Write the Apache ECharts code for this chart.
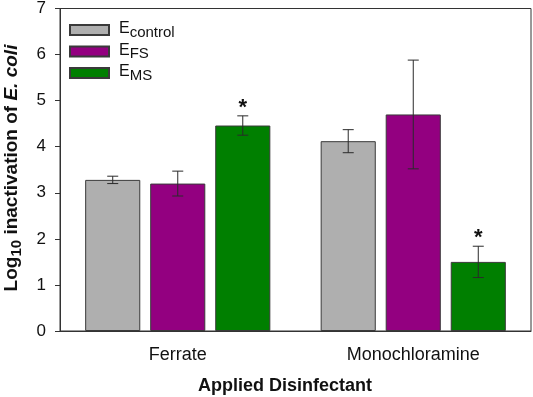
<!DOCTYPE html>
<html>
<head>
<meta charset="utf-8">
<script src="https://cdn.jsdelivr.net/npm/echarts@6/dist/echarts.min.js"></script>
<style>
  html, body { margin: 0; padding: 0; background: #fff; }
  #chart { width: 533px; height: 397px; }
</style>
</head>
<body>
<div id="chart"></div>
<script>
// data
var categories = ['Ferrate', 'Monochloramine']
var controlMean = [3.28, 4.12]
var controlErr = [0.08, 0.25]
var fsMean = [3.20, 4.70]
var fsErr = [0.27, 1.18]
var msMean = [4.46, 1.50]
var msErr = [0.21, 0.34]
var msSig = ['*', '*']
var yTicks = [0, 1, 2, 3, 4, 5, 6, 7]

var font = 'Liberation Sans, Arial, sans-serif'
var barWidthPct = 0.234
var barGapPct = 0.18

function errSeries (name, means, errs, idx, marks) {
  var rows = means.map(function (m, i) { return [i, m, errs[i], marks ? marks[i] : ''] })
  return {
    name: name + '_err',
    type: 'custom',
    z: 5,
    data: rows,
    renderItem: function (params, api) {
      var band = api.size([1, 0])[0]
      var bw = band * barWidthPct
      var off = (idx - 1) * bw * (1 + barGapPct)
      var c = api.value(0)
      var m = api.value(1)
      var e = api.value(2)
      var top = api.coord([c, m + e])
      var bot = api.coord([c, m - e])
      var x = top[0] + off
      var cap = 5.5
      var st = { stroke: '#2a2a2a', lineWidth: 1 }
      var kids = [
        { type: 'line', shape: { x1: x, y1: top[1], x2: x, y2: bot[1] }, style: st },
        { type: 'line', shape: { x1: x - cap, y1: top[1], x2: x + cap, y2: top[1] }, style: st },
        { type: 'line', shape: { x1: x - cap, y1: bot[1], x2: x + cap, y2: bot[1] }, style: st }
      ]
      var mk = rows[params.dataIndex][3]
      if (mk) {
        kids.push({
          type: 'text',
          style: {
            x: x, y: top[1] + 3, text: mk, fill: '#111',
            font: 'bold 22px ' + font, textAlign: 'center', textVerticalAlign: 'bottom'
          }
        })
      }
      return { type: 'group', children: kids }
    }
  }
}

var legendRich = {
  a: { fontSize: 16, fontFamily: font, color: '#111', verticalAlign: 'top', lineHeight: 18, padding: [0, 0, 0, 5] },
  b: { fontSize: 15, fontFamily: font, color: '#111', verticalAlign: 'top', lineHeight: 18, padding: [4, 0, 0, 0] }
}

var myChart = echarts.init(document.getElementById('chart'), null, { renderer: 'canvas' })
var option = {
  animation: false,
  grid: {
    left: 60, right: 2, top: 8, bottom: 66,
    show: true, borderColor: '#333', borderWidth: 1
  },
  legend: {
    orient: 'vertical',
    left: 64, top: 16,
    itemWidth: 39, itemHeight: 10, itemGap: 2.5,
    icon: 'rect',
    data: ['control', 'FS', 'MS'],
    formatter: function (n) { return '{a|E}{b|' + n + '}' },
    textStyle: { rich: legendRich, padding: [0, 0, 0, 0] }
  },
  xAxis: {
    type: 'category',
    data: categories,
    axisLine: { lineStyle: { color: '#333', width: 1 } },
    axisTick: { alignWithLabel: true, length: 5, lineStyle: { color: '#333' } },
    axisLabel: { fontSize: 18, fontFamily: font, color: '#111', margin: 15 }
  },
  yAxis: {
    type: 'value',
    min: 0, max: 7, interval: 1,
    splitLine: { show: false },
    axisLine: { show: true, lineStyle: { color: '#333', width: 1 } },
    axisTick: { show: true, length: 5, lineStyle: { color: '#333' } },
    axisLabel: {
      fontSize: 17, fontFamily: font, color: '#111', margin: 14,
      formatter: function (v) { return yTicks.indexOf(v) >= 0 ? String(v) : '' }
    }
  },
  graphic: [
    {
      type: 'text', x: 285, y: 386,
      style: {
        text: 'Applied Disinfectant', fill: '#111',
        font: 'bold 18px ' + font, textAlign: 'center', textVerticalAlign: 'middle'
      }
    },
    {
      type: 'text',
      x: 13, y: 168, rotation: Math.PI / 2,
      style: {
        text: '{t|Log}{s|10}{t| inactivation of }{i|E. coli}',
        textAlign: 'center', textVerticalAlign: 'middle',
        rich: {
          t: { font: 'bold 19px ' + font, fill: '#111', verticalAlign: 'top', lineHeight: 22 },
          s: { font: 'bold 15px ' + font, fill: '#111', verticalAlign: 'top', lineHeight: 22, padding: [7, 0, 0, 0] },
          i: { font: 'italic bold 19px ' + font, fill: '#111', verticalAlign: 'top', lineHeight: 22 }
        }
      }
    }
  ],
  series: [
    {
      name: 'control', type: 'bar', data: controlMean,
      barWidth: (barWidthPct * 100) + '%', barGap: (barGapPct * 100) + '%',
      itemStyle: { color: '#afafaf', borderColor: '#3a3a3a', borderWidth: 1 }
    },
    {
      name: 'FS', type: 'bar', data: fsMean,
      barWidth: (barWidthPct * 100) + '%', barGap: (barGapPct * 100) + '%',
      itemStyle: { color: '#930080', borderColor: '#3a3a3a', borderWidth: 1 }
    },
    {
      name: 'MS', type: 'bar', data: msMean,
      barWidth: (barWidthPct * 100) + '%', barGap: (barGapPct * 100) + '%',
      itemStyle: { color: '#007f00', borderColor: '#3a3a3a', borderWidth: 1 }
    },
    errSeries('control', controlMean, controlErr, 0),
    errSeries('FS', fsMean, fsErr, 1),
    errSeries('MS', msMean, msErr, 2, msSig)
  ]
}
myChart.setOption(option)
</script>
</body>
</html>
